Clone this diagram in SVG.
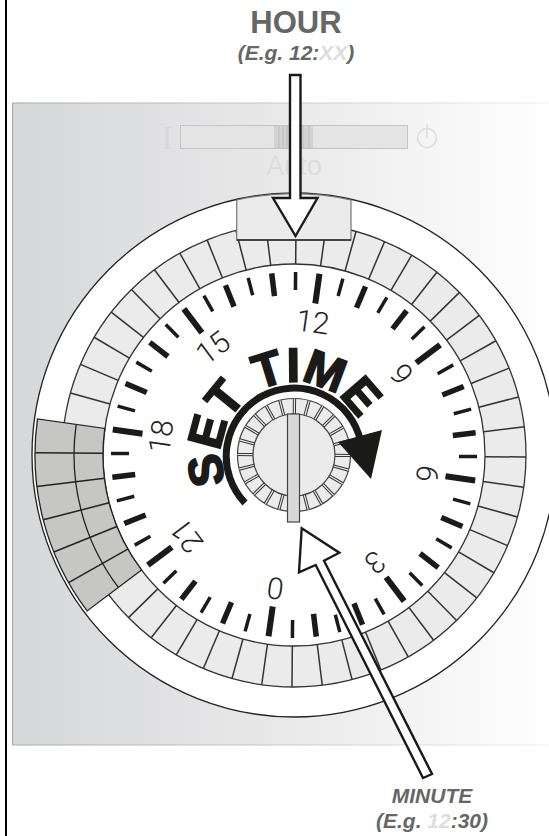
<svg xmlns="http://www.w3.org/2000/svg" xmlns:xlink="http://www.w3.org/1999/xlink" width="549" height="836" viewBox="0 0 549 836">
<style>
.cap{font-family:"Liberation Sans",Arial,sans-serif;font-weight:bold;fill:#666}
.it{font-style:italic;font-size:21px}
.pale{fill:#ddd}
.num{font-family:Roboto,"Liberation Sans",sans-serif;font-weight:300;font-size:30px;fill:#222;text-anchor:middle}
.arrow{fill:#fff;stroke:#1a1a1a;stroke-width:2.4;stroke-linejoin:miter}
</style>
<defs>
<linearGradient id="bg" x1="0" y1="0" x2="1" y2="0"><stop offset="0" stop-color="#d6d7d9"/><stop offset=".5" stop-color="#e9e9ea"/><stop offset="1" stop-color="#fff"/></linearGradient>
<linearGradient id="edge" gradientUnits="userSpaceOnUse" x1="12" y1="0" x2="549" y2="0"><stop offset="0" stop-color="#a8a8a8"/><stop offset=".6" stop-color="#cfcfcf"/><stop offset="1" stop-color="#f0f0f0"/></linearGradient>
<line id="seg" x1="0" y1="-191" x2="0" y2="-232" stroke="#333" stroke-width="1.5"/>
<line id="dseg" x1="0" y1="-191" x2="0" y2="-259" stroke="#222" stroke-width="1.5"/>
<line id="ts" x1="0" y1="-165" x2="0" y2="-183" stroke="#1a1a18" stroke-width="3.5"/>
<line id="tm" x1="0" y1="-160" x2="0" y2="-183" stroke="#1a1a18" stroke-width="5.5"/>
<line id="tl" x1="0" y1="-153" x2="0" y2="-183" stroke="#1a1a18" stroke-width="6"/>
<g id="kn"><line x1="0" y1="-41" x2="0" y2="-56.5" stroke="#333" stroke-width="3.2"/><line x1="0" y1="-41" x2="0" y2="-56.5" stroke="#ebebeb" stroke-width="1.2"/></g>
<path id="setpath" d="M226.6 482.9A73 73 0 1 1 365.9 442.3"/>
</defs>
<g id="frame"><rect x="5" y="0" width="2" height="836" fill="#000"/></g>
<g id="panel">
<rect x="12.5" y="103" width="540" height="642" fill="url(#bg)" stroke="url(#edge)" stroke-width="1"/>
<text x="167" y="149" font-family="'Liberation Serif',serif" font-size="33" fill="#d8d8d8" text-anchor="middle">I</text>
<rect x="180.5" y="125.5" width="227" height="23" fill="#e4e4e5" stroke="#c4c4c4"/>
<rect x="274" y="126" width="39" height="22" fill="#d2d2d2"/>
<path d="M279 126V148M283 126V148M287 126V148M303 126V148M309 126V148" stroke="#bdbdbd" fill="none"/>
<circle cx="427" cy="138" r="9.5" fill="none" stroke="#ddd" stroke-width="1.5"/>
<line x1="427" y1="124" x2="427" y2="138" stroke="#ddd" stroke-width="1.5"/>
<text x="294" y="175" font-family="'Liberation Sans',sans-serif" font-size="27" fill="#ddd" text-anchor="middle">Auto</text>
</g>
<g id="dial">
<circle cx="294" cy="455" r="262" fill="#fff" stroke="#222" stroke-width="1.3"/>
<circle cx="294" cy="455" r="232" fill="#ebebeb" stroke="#333" stroke-width="1.3"/>
<circle cx="294" cy="455" r="191" fill="#fff" stroke="#333" stroke-width="1.3"/>
<g transform="translate(294 455) rotate(.5)">
<g id="ring">
<use xlink:href="#seg"/><use xlink:href="#seg" transform="rotate(7.5)"/><use xlink:href="#seg" transform="rotate(15)"/><use xlink:href="#seg" transform="rotate(22.5)"/><use xlink:href="#seg" transform="rotate(30)"/><use xlink:href="#seg" transform="rotate(37.5)"/><use xlink:href="#seg" transform="rotate(45)"/><use xlink:href="#seg" transform="rotate(52.5)"/><use xlink:href="#seg" transform="rotate(60)"/><use xlink:href="#seg" transform="rotate(67.5)"/><use xlink:href="#seg" transform="rotate(75)"/><use xlink:href="#seg" transform="rotate(82.5)"/><use xlink:href="#seg" transform="rotate(90)"/><use xlink:href="#seg" transform="rotate(97.5)"/><use xlink:href="#seg" transform="rotate(105)"/><use xlink:href="#seg" transform="rotate(112.5)"/><use xlink:href="#seg" transform="rotate(120)"/><use xlink:href="#seg" transform="rotate(127.5)"/><use xlink:href="#seg" transform="rotate(135)"/><use xlink:href="#seg" transform="rotate(142.5)"/><use xlink:href="#seg" transform="rotate(150)"/><use xlink:href="#seg" transform="rotate(157.5)"/><use xlink:href="#seg" transform="rotate(165)"/><use xlink:href="#seg" transform="rotate(172.5)"/><use xlink:href="#seg" transform="rotate(180)"/><use xlink:href="#seg" transform="rotate(187.5)"/><use xlink:href="#seg" transform="rotate(195)"/><use xlink:href="#seg" transform="rotate(202.5)"/><use xlink:href="#seg" transform="rotate(210)"/><use xlink:href="#seg" transform="rotate(217.5)"/><use xlink:href="#seg" transform="rotate(225)"/><use xlink:href="#seg" transform="rotate(285)"/><use xlink:href="#seg" transform="rotate(292.5)"/><use xlink:href="#seg" transform="rotate(300)"/><use xlink:href="#seg" transform="rotate(307.5)"/><use xlink:href="#seg" transform="rotate(315)"/><use xlink:href="#seg" transform="rotate(322.5)"/><use xlink:href="#seg" transform="rotate(330)"/><use xlink:href="#seg" transform="rotate(337.5)"/><use xlink:href="#seg" transform="rotate(345)"/><use xlink:href="#seg" transform="rotate(352.5)"/>
</g>
<g id="set-segments">
<path d="M-151.5 116.3L-205.5 157.7A259 259 0 0 1-256.8-33.8L-189.4-24.9A191 191 0 0 0-151.5 116.3Z" fill="#c6c7c5" stroke="#222" stroke-width="1.3"/>
<path d="M-174.5 133.9A220 220 0 0 1-218.1-28.7" fill="none" stroke="#222" stroke-width="1.3"/>
<use xlink:href="#dseg" transform="rotate(240)"/><use xlink:href="#dseg" transform="rotate(247.5)"/><use xlink:href="#dseg" transform="rotate(255)"/><use xlink:href="#dseg" transform="rotate(262.5)"/><use xlink:href="#dseg" transform="rotate(270)"/>
</g>
<g id="ticks">
<use xlink:href="#ts"/><use xlink:href="#tl" transform="rotate(7.5)"/><use xlink:href="#ts" transform="rotate(15)"/><use xlink:href="#tm" transform="rotate(22.5)"/><use xlink:href="#ts" transform="rotate(30)"/><use xlink:href="#tm" transform="rotate(37.5)"/><use xlink:href="#ts" transform="rotate(45)"/><use xlink:href="#tl" transform="rotate(52.5)"/><use xlink:href="#ts" transform="rotate(60)"/><use xlink:href="#tm" transform="rotate(67.5)"/><use xlink:href="#ts" transform="rotate(75)"/><use xlink:href="#tm" transform="rotate(82.5)"/><use xlink:href="#ts" transform="rotate(90)"/><use xlink:href="#tl" transform="rotate(97.5)"/><use xlink:href="#ts" transform="rotate(105)"/><use xlink:href="#tm" transform="rotate(112.5)"/><use xlink:href="#ts" transform="rotate(120)"/><use xlink:href="#tm" transform="rotate(127.5)"/><use xlink:href="#ts" transform="rotate(135)"/><use xlink:href="#tl" transform="rotate(142.5)"/><use xlink:href="#ts" transform="rotate(150)"/><use xlink:href="#tm" transform="rotate(157.5)"/><use xlink:href="#ts" transform="rotate(165)"/><use xlink:href="#tm" transform="rotate(172.5)"/><use xlink:href="#ts" transform="rotate(180)"/><use xlink:href="#tl" transform="rotate(187.5)"/><use xlink:href="#ts" transform="rotate(195)"/><use xlink:href="#tm" transform="rotate(202.5)"/><use xlink:href="#ts" transform="rotate(210)"/><use xlink:href="#tm" transform="rotate(217.5)"/><use xlink:href="#ts" transform="rotate(225)"/><use xlink:href="#tl" transform="rotate(232.5)"/><use xlink:href="#ts" transform="rotate(240)"/><use xlink:href="#tm" transform="rotate(247.5)"/><use xlink:href="#ts" transform="rotate(255)"/><use xlink:href="#tm" transform="rotate(262.5)"/><use xlink:href="#ts" transform="rotate(270)"/><use xlink:href="#tl" transform="rotate(277.5)"/><use xlink:href="#ts" transform="rotate(285)"/><use xlink:href="#tm" transform="rotate(292.5)"/><use xlink:href="#ts" transform="rotate(300)"/><use xlink:href="#tm" transform="rotate(307.5)"/><use xlink:href="#ts" transform="rotate(315)"/><use xlink:href="#tl" transform="rotate(322.5)"/><use xlink:href="#ts" transform="rotate(330)"/><use xlink:href="#tm" transform="rotate(337.5)"/><use xlink:href="#ts" transform="rotate(345)"/><use xlink:href="#tm" transform="rotate(352.5)"/>
</g>
<g id="labels">
<text class="num" y="-124" transform="rotate(7.5)">12</text>
<text class="num" y="-124" transform="rotate(52.5)">9</text>
<text class="num" y="-124" transform="rotate(97.5)">6</text>
<text class="num" y="-124" transform="rotate(142.5)">3</text>
<text class="num" y="-124" transform="rotate(187.5)">0</text>
<text class="num" y="-124" transform="rotate(232.5)">21</text>
<text class="num" y="-124" transform="rotate(277.5)">18</text>
<text class="num" y="-124" transform="rotate(322.5)">15</text>
</g>
<g id="knob">
<circle r="56.5" fill="#ebebeb" stroke="#444" stroke-width="1.2"/>
<use xlink:href="#kn"/><use xlink:href="#kn" transform="rotate(15)"/><use xlink:href="#kn" transform="rotate(30)"/><use xlink:href="#kn" transform="rotate(45)"/><use xlink:href="#kn" transform="rotate(60)"/><use xlink:href="#kn" transform="rotate(75)"/><use xlink:href="#kn" transform="rotate(90)"/><use xlink:href="#kn" transform="rotate(105)"/><use xlink:href="#kn" transform="rotate(120)"/><use xlink:href="#kn" transform="rotate(135)"/><use xlink:href="#kn" transform="rotate(150)"/><use xlink:href="#kn" transform="rotate(165)"/><use xlink:href="#kn" transform="rotate(195)"/><use xlink:href="#kn" transform="rotate(210)"/><use xlink:href="#kn" transform="rotate(225)"/><use xlink:href="#kn" transform="rotate(240)"/><use xlink:href="#kn" transform="rotate(255)"/><use xlink:href="#kn" transform="rotate(270)"/><use xlink:href="#kn" transform="rotate(285)"/><use xlink:href="#kn" transform="rotate(300)"/><use xlink:href="#kn" transform="rotate(315)"/><use xlink:href="#kn" transform="rotate(330)"/><use xlink:href="#kn" transform="rotate(345)"/>
<circle r="41" fill="#ebebeb" stroke="#444" stroke-width="1.2"/>
</g>
</g>
<rect x="287.5" y="414" width="12" height="108" fill="#d9d9d9" stroke="#444" stroke-width="1.2"/>
</g>
<g id="hour-block">
<path d="M236.7 240V200A262 262 0 0 1 351 200V240Z" fill="#ebebeb" stroke="#777" stroke-width="1.2"/>
<line x1="236.7" y1="240" x2="351" y2="240" stroke="#222" stroke-width="1.3"/>
</g>
<g id="set-time">
<text font-family="'Liberation Sans',Arial,sans-serif" font-weight="bold" font-size="48" fill="#1a1a18" stroke="#1a1a18" stroke-width="1.8"><textPath xlink:href="#setpath">SET TIME</textPath></text>
<path d="M245 503A68 68 0 1 1 360.5 440.9" fill="none" stroke="#1a1a18" stroke-width="7"/>
<path d="M338 442L382 430L371 479Z" fill="#1a1a18"/>
</g>
<g id="connectors">
<path class="arrow" d="M290 75H300.5V198H317.5L295.5 236L273 198H290Z"/>
<path class="arrow" d="M301.7 528.3L339.3 552.7L324 560.7L432 774L423 778L315.7 565L299 572.3Z"/>
</g>
<g id="hour-label">
<text class="cap" x="296" y="33" font-size="31" text-anchor="middle">HOUR</text>
<text class="cap it" x="296" y="60" text-anchor="middle">(E.g. 12:<tspan class="pale">XX</tspan>)</text>
</g>
<g id="minute-label">
<text class="cap it" x="432" y="803" text-anchor="middle">MINUTE</text>
<text class="cap it" x="432" y="828" text-anchor="middle">(E.g. <tspan class="pale">12</tspan>:30)</text>
</g>
</svg>
